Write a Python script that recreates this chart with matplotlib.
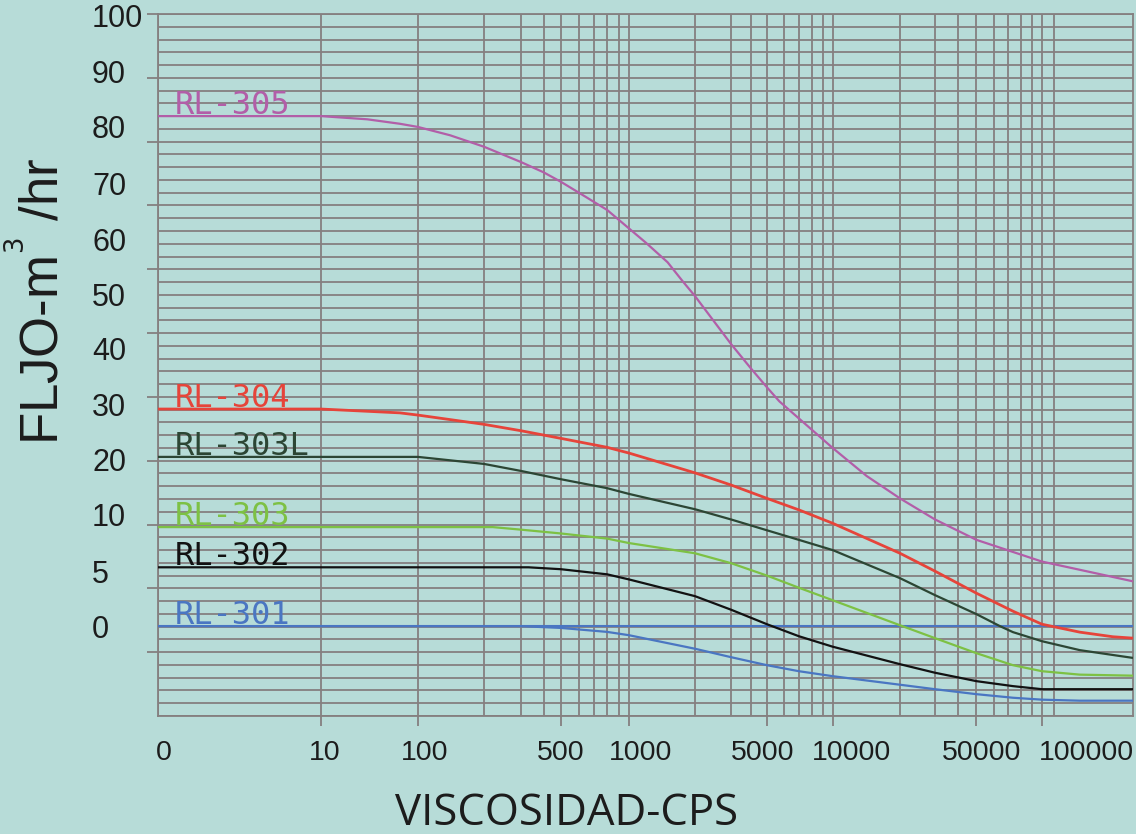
import numpy as np
import matplotlib
matplotlib.use("Agg")
import matplotlib.pyplot as plt
from matplotlib.ticker import FixedLocator, FixedFormatter, NullFormatter
from matplotlib.transforms import ScaledTranslation, blended_transform_factory

# ------------------------------------------------------------------ data
series_names = ["RL-305", "RL-304", "RL-303L", "RL-303", "RL-302", "RL-301"]

visc_305 = [0, 10, 30, 65, 100, 140, 200, 300, 400, 500, 600, 800, 1000, 1200, 1500,
            1750, 2000, 3000, 4000, 5000, 5700, 10000, 14200, 20000, 30000, 50000,
            100000, 274000]
flow_305 = [84.0, 84.0, 83.5, 82.8, 82.3, 81.0, 79.2, 76.8, 75.2, 73.7, 72.0, 69.3,
            66.4, 64.1, 61.1, 58.2, 55.8, 48.3, 44.4, 41.5, 39.3, 32.0, 27.6, 24.1,
            20.8, 17.6, 14.2, 11.1]

visc_304 = [0, 10, 65, 100, 200, 300, 500, 800, 1000, 2000, 3000, 5000, 7000,
            10000, 20000, 30000, 50000, 73600, 100000, 152000, 219000, 274000]
flow_304 = [38.1, 38.1, 37.5, 37.15, 35.7, 34.7, 33.5, 32.1, 31.2, 28.1, 26.2, 24.1,
            22.3, 20.2, 15.5, 12.7, 9.62, 8.21, 7.19, 6.57, 6.21, 6.10]

visc_303L = [0, 100, 200, 300, 500, 800, 1000, 2000, 3000, 5000, 7000, 10000,
             20000, 30000, 50000, 64100, 73600, 100000, 152000, 274000]
flow_303L = [30.6, 30.6, 29.5, 28.4, 27.1, 25.7, 24.8, 22.4, 20.8, 19.1, 17.6, 16.0,
             11.6, 9.47, 7.98, 7.04, 6.57, 5.86, 5.16, 4.55]

visc_303 = [0, 220, 300, 500, 800, 1000, 2000, 3000, 5000, 7000, 10000, 20000,
            30000, 50000, 73600, 100000, 152000, 274000]
flow_303 = [19.6, 19.6, 19.2, 18.6, 17.8, 17.1, 15.5, 13.95, 12.0, 10.1, 9.07, 7.11,
            6.10, 4.92, 3.98, 3.51, 3.24, 3.16]

visc_302 = [0, 330, 500, 800, 1000, 2000, 3000, 5000, 7000, 10000, 20000, 30000,
            50000, 73600, 100000, 274000]
flow_302 = [13.3, 13.3, 13.0, 12.2, 11.4, 9.39, 8.33, 7.19, 6.25, 5.43, 4.06, 3.39,
            2.73, 2.34, 2.10, 2.10]

visc_301 = [0, 300, 500, 800, 1000, 2000, 3000, 5000, 7000, 10000, 20000, 30000,
            50000, 73600, 100000, 152000, 274000]
flow_301 = [7.04, 7.04, 6.90, 6.59, 6.33, 5.27, 4.61, 3.98, 3.51, 3.12, 2.45, 2.10,
            1.71, 1.43, 1.28, 1.20, 1.20]

visc_301_ref = [0, 274000]
flow_301_ref = [7.04, 7.04]

x_tick_values = [0, 10, 100, 500, 1000, 5000, 10000, 50000, 100000]
x_tick_labels = ["0", "10", "100", "500", "1000", "5000", "10000", "50000", "100000"]
x_grid_values = [200, 300, 400, 600, 700, 800, 900,
                 2000, 3000, 4000, 6000, 7000, 8000, 9000,
                 20000, 30000, 40000, 60000, 70000, 80000, 90000, 114000]

y_tick_values = [0, 5, 10, 20, 30, 40, 50, 60, 70, 80, 90, 100]
y_tick_labels = ["0", "5", "10", "20", "30", "40", "50", "60", "70", "80", "90", "100"]
y_grid_values = [1, 2, 3, 4, 6, 7, 8, 9] + list(range(12, 100, 2))

# ------------------------------------------------------------------ style
BG = "#b7dcd8"
GRID = "#858080"
TXT = "#1c1c1c"
colors = {"RL-305": "#b25ea8", "RL-304": "#e6443a", "RL-303L": "#2c4634",
          "RL-303": "#7dc144", "RL-302": "#121212", "RL-301": "#4a76c2"}

# ------------------------------------------------------------------ scales
# x: linear 0..10, then a (hand drawn) logarithmic chart paper
X_ANCHOR_LOG = np.log10([10, 100, 200, 300, 500, 1000, 2000, 3000, 5000,
                         10000, 20000, 30000, 50000, 100000])
X_ANCHOR_POS = np.array([321, 418, 484, 521, 561, 629, 695, 731, 767,
                         832.7, 900, 935, 976.5, 1042]) - 158.0
X_LIN = X_ANCHOR_POS[0] / 10.0
X_DEC = 208.0


def x_forward(v):
    v = np.asarray(v, dtype=float)
    lv = np.log10(np.clip(v, 10, None))
    out = np.interp(lv, X_ANCHOR_LOG, X_ANCHOR_POS)
    out = np.where(lv > X_ANCHOR_LOG[-1],
                   X_ANCHOR_POS[-1] + (lv - X_ANCHOR_LOG[-1]) * X_DEC, out)
    return np.where(v < 10, v * X_LIN, out)


def x_inverse(u):
    u = np.asarray(u, dtype=float)
    lv = np.interp(u, X_ANCHOR_POS, X_ANCHOR_LOG)
    lv = np.where(u > X_ANCHOR_POS[-1],
                  X_ANCHOR_LOG[-1] + (u - X_ANCHOR_POS[-1]) / X_DEC, lv)
    lv = np.clip(lv, -10, 10)
    return np.where(u < X_ANCHOR_POS[0], u / X_LIN, 10.0 ** lv)


# y: equally spaced steps 0,5,10,20,...,100
Y_STEPS = np.array(y_tick_values, dtype=float)
Y_IDX = np.arange(len(Y_STEPS), dtype=float)


def y_forward(v):
    v = np.asarray(v, dtype=float)
    out = np.interp(v, Y_STEPS, Y_IDX)
    out = np.where(v < 0, v / 5.0, out)
    return np.where(v > 100, 11 + (v - 100) / 10.0, out)


def y_inverse(u):
    u = np.asarray(u, dtype=float)
    out = np.interp(u, Y_IDX, Y_STEPS)
    out = np.where(u < 0, u * 5.0, out)
    return np.where(u > 11, 100 + (u - 11) * 10.0, out)


plt.rcParams["font.family"] = ["Liberation Sans", "DejaVu Sans"]

fig = plt.figure(figsize=(11.36, 8.34), dpi=100, facecolor=BG)
W, H = 1136.0, 834.0
ax = fig.add_axes([158 / W, 1 - 716 / H, 975 / W, 702 / H])
ax.set_facecolor(BG)
ax.set_xscale("function", functions=(x_forward, x_inverse))
ax.set_yscale("function", functions=(y_forward, y_inverse))
ax.set_xlim(0, 274000)
ax.set_ylim(0, 100)

ax.xaxis.set_major_locator(FixedLocator(x_tick_values))
ax.xaxis.set_major_formatter(FixedFormatter(x_tick_labels))
ax.xaxis.set_minor_locator(FixedLocator(x_grid_values))
ax.xaxis.set_minor_formatter(NullFormatter())
ax.yaxis.set_major_locator(FixedLocator(y_tick_values))
ax.yaxis.set_major_formatter(FixedFormatter(y_tick_labels))
ax.yaxis.set_minor_locator(FixedLocator(y_grid_values))
ax.yaxis.set_minor_formatter(NullFormatter())

ax.set_axisbelow(True)
ax.grid(True, which="both", color=GRID, linewidth=1.3)
ax.tick_params(which="minor", length=0)
ax.tick_params(axis="x", which="major", direction="out", length=7.2, width=1.3,
               color=GRID, pad=10, labelsize=20.5, labelcolor=TXT)
ax.tick_params(axis="y", which="major", direction="out", length=7.9, width=1.3,
               color=GRID, pad=39.6, labelsize=22, labelcolor=TXT)
for sp in ax.spines.values():
    sp.set_color(GRID)
    sp.set_linewidth(1.3)

# ------------------------------------------------------------------ curves
series = [("RL-305", visc_305, flow_305), ("RL-304", visc_304, flow_304),
          ("RL-303L", visc_303L, flow_303L), ("RL-303", visc_303, flow_303),
          ("RL-302", visc_302, flow_302), ("RL-301", visc_301, flow_301)]

ax.plot(visc_301_ref, flow_301_ref, color=colors["RL-301"], lw=1.5, zorder=3)
for name, xs, ys in series:
    lw = 2.0 if name == "RL-304" else 1.6
    ax.plot(xs, ys, color=colors[name], lw=lw, zorder=4,
            solid_joinstyle="round", solid_capstyle="butt")

lab_tr = blended_transform_factory(ax.transAxes, ax.transData) + \
    ScaledTranslation(0, 2 / 100.0, fig.dpi_scale_trans)
for name, xs, ys in series:
    ax.text(0.0174, ys[0], name, transform=lab_tr, color=colors[name],
            fontsize=23, family=["DejaVu Sans Mono", "DejaVu Sans"],
            ha="left", va="baseline", zorder=5)

# ------------------------------------------------------------------ labels
fig.text(40 / W, 1 - 301 / H, "FLJO-m$^{^{3}}$ /hr", rotation=90, ha="center",
         va="center", fontsize=38, color=TXT)
fig.text(567 / W, 1 - 825 / H, "VISCOSIDAD-CPS", ha="center", va="baseline",
         fontsize=31.5, color=TXT, family=["Open Sans", "DejaVu Sans"])

# tick cosmetics (the printed labels are not centred on their ticks)
x_label_shift = [6, 4, 7, 0, 12, -4, 19, 5, 44]
y_label_shift = [86, 77.2, 70.4, 61.6, 52.7, 44.9, 35.1, 26.3, 18.8, 11.6, 2.8, -5]

xticks = ax.xaxis.get_major_ticks()
for tick, val, dx in zip(xticks, x_tick_values, x_label_shift):
    if val == 0:
        tick.tick1line.set_visible(False)
    lab = tick.label1
    lab.set_transform(lab.get_transform() +
                      ScaledTranslation(dx / 100.0, 0, fig.dpi_scale_trans))

yticks = ax.yaxis.get_major_ticks()
for tick, val, dy in zip(yticks, y_tick_values, y_label_shift):
    if val == 0:
        tick.tick1line.set_visible(False)
    lab = tick.label1
    lab.set_horizontalalignment("left")
    lab.set_verticalalignment("center")
    lab.set_transform(lab.get_transform() +
                      ScaledTranslation(0, dy / 100.0, fig.dpi_scale_trans))

fig.savefig("out.png", dpi=100, facecolor=BG)
